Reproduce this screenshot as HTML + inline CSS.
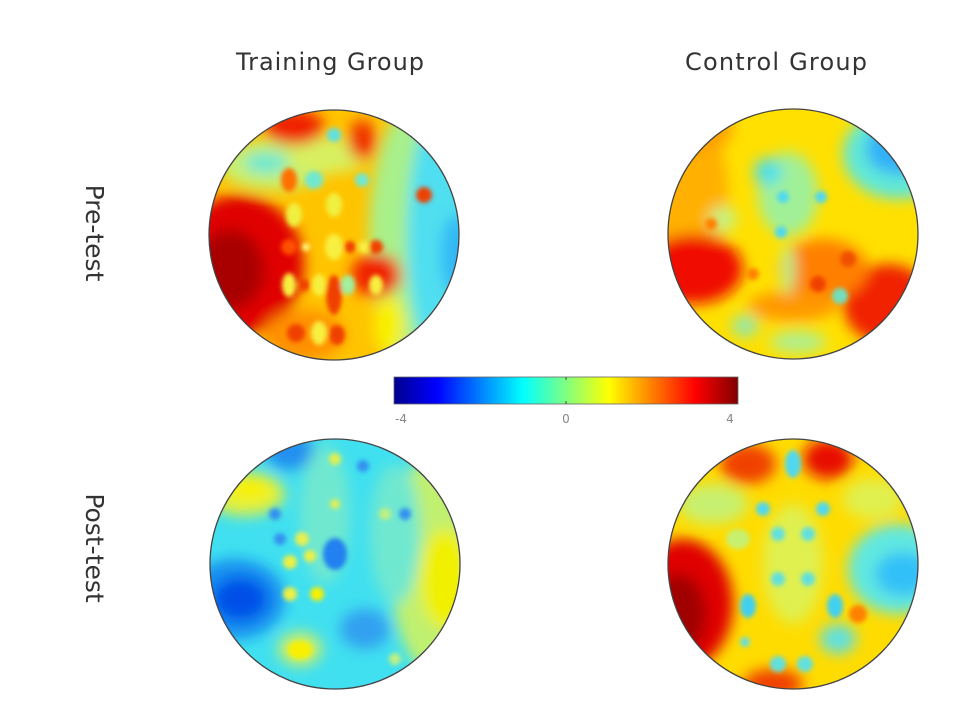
<!DOCTYPE html>
<html><head><meta charset="utf-8"><style>
html,body{margin:0;padding:0;background:#fff;}
svg{display:block;}
text{font-family:"DejaVu Sans","Liberation Sans",sans-serif;fill:#333;}
</style></head><body>
<svg width="960" height="720" viewBox="0 0 960 720" xmlns="http://www.w3.org/2000/svg">
<defs>
<filter id="b" x="-30%" y="-30%" width="160%" height="160%"><feGaussianBlur stdDeviation="7"/></filter>
<filter id="s" x="-50%" y="-50%" width="200%" height="200%"><feGaussianBlur stdDeviation="2.5"/></filter>
<clipPath id="c"><circle cx="0" cy="0" r="125"/></clipPath>
<linearGradient id="jet" x1="0" x2="1" y1="0" y2="0">
<stop offset="0" stop-color="#00008f"/><stop offset="0.125" stop-color="#0000ff"/>
<stop offset="0.375" stop-color="#00ffff"/><stop offset="0.5" stop-color="#80ff80"/>
<stop offset="0.625" stop-color="#ffff00"/><stop offset="0.875" stop-color="#ff0000"/>
<stop offset="1" stop-color="#800000"/></linearGradient>
</defs>

<text x="330" y="70" font-size="24" text-anchor="middle" textLength="188">Training Group</text>
<text x="776" y="70" font-size="24" text-anchor="middle" textLength="182">Control Group</text>
<text transform="translate(86,233) rotate(90)" font-size="25" text-anchor="middle">Pre-test</text>
<text transform="translate(86,548) rotate(90)" font-size="25" text-anchor="middle">Post-test</text>

<!-- Top-left -->
<g transform="translate(334,235)">
<g clip-path="url(#c)">
<rect x="-130" y="-130" width="260" height="260" fill="#ffc400"/>
<g filter="url(#b)">
<ellipse cx="90" cy="0" rx="55" ry="140" fill="#a8f08a"/>
<ellipse cx="108" cy="0" rx="35" ry="130" fill="#50dff0"/>
<ellipse cx="122" cy="20" rx="15" ry="40" fill="#30b8f5"/>
<ellipse cx="-60" cy="-70" rx="55" ry="25" fill="#c8f070"/>
<ellipse cx="-68" cy="-72" rx="22" ry="11" fill="#70e8d0"/>
<ellipse cx="-5" cy="-80" rx="40" ry="18" fill="#d8f060"/>
<ellipse cx="-95" cy="30" rx="65" ry="70" fill="#e00000"/>
<ellipse cx="-105" cy="35" rx="35" ry="40" fill="#a80000"/>
<ellipse cx="-40" cy="-108" rx="30" ry="18" fill="#f02000"/>
<ellipse cx="28" cy="-95" rx="14" ry="20" fill="#f03000"/>
<ellipse cx="42" cy="40" rx="25" ry="22" fill="#f02000"/>
<ellipse cx="-30" cy="100" rx="40" ry="25" fill="#ff9000"/>
<ellipse cx="55" cy="90" rx="15" ry="30" fill="#f8f000"/>
</g>
<g filter="url(#s)">
<circle cx="0" cy="-100" r="7" fill="#60e0e0"/>
<circle cx="-20" cy="-55" r="9" fill="#70e8d0"/>
<circle cx="28" cy="-55" r="7" fill="#70e8d0"/>
<ellipse cx="-45" cy="-55" rx="8" ry="12" fill="#ff7000"/>
<ellipse cx="-40" cy="-20" rx="8" ry="12" fill="#f0f040"/>
<ellipse cx="0" cy="-30" rx="8" ry="12" fill="#f0f040"/>
<circle cx="90" cy="-40" r="8" fill="#f04000"/>
<circle cx="-45" cy="12" r="8" fill="#ff5000"/>
<circle cx="-28" cy="12" r="4" fill="#ffff80"/>
<ellipse cx="0" cy="12" rx="9" ry="13" fill="#f8f040"/>
<circle cx="16" cy="12" r="6" fill="#f04000"/>
<circle cx="30" cy="12" r="6" fill="#f8f040"/>
<circle cx="42" cy="12" r="7" fill="#f04000"/>
<ellipse cx="-45" cy="50" rx="7" ry="12" fill="#f8f040"/>
<circle cx="-30" cy="50" r="6" fill="#f04000"/>
<ellipse cx="-15" cy="50" rx="7" ry="11" fill="#f8f040"/>
<ellipse cx="0" cy="60" rx="8" ry="20" fill="#f04000"/>
<ellipse cx="14" cy="50" rx="7" ry="10" fill="#a0f0a0"/>
<ellipse cx="42" cy="50" rx="7" ry="10" fill="#f8f040"/>
<circle cx="-38" cy="98" r="9" fill="#f04000"/>
<ellipse cx="-15" cy="98" rx="8" ry="12" fill="#f8f040"/>
<ellipse cx="3" cy="100" rx="8" ry="10" fill="#f04000"/>
</g>
</g>
<circle r="125" fill="none" stroke="#444" stroke-width="1.3"/>
</g>

<!-- Top-right -->
<g transform="translate(793,234)">
<g clip-path="url(#c)">
<rect x="-130" y="-130" width="260" height="260" fill="#ffe000"/>
<g filter="url(#b)">
<ellipse cx="-105" cy="-40" rx="40" ry="80" fill="#ffb000"/>
<ellipse cx="-100" cy="35" rx="50" ry="35" fill="#f01000"/>
<ellipse cx="95" cy="70" rx="45" ry="40" fill="#f02000"/>
<ellipse cx="30" cy="35" rx="45" ry="30" fill="#ff8000"/>
<ellipse cx="0" cy="72" rx="45" ry="15" fill="#ff9800"/>
<ellipse cx="105" cy="-80" rx="55" ry="45" fill="#60e8d8"/>
<ellipse cx="105" cy="-85" rx="32" ry="26" fill="#30b0f8"/>
<ellipse cx="-5" cy="-40" rx="30" ry="42" fill="#a0f098"/>
<ellipse cx="-25" cy="-62" rx="14" ry="14" fill="#50e0e8"/>
<ellipse cx="-70" cy="-15" rx="14" ry="13" fill="#c8f080"/>
<ellipse cx="-5" cy="35" rx="7" ry="25" fill="#b8f090"/>
<ellipse cx="-100" cy="-105" rx="40" ry="25" fill="#ffa000"/>
<ellipse cx="-48" cy="92" rx="13" ry="11" fill="#90e8b0"/>
<ellipse cx="5" cy="108" rx="28" ry="11" fill="#b0f090"/>
</g>
<g filter="url(#s)">
<circle cx="-10" cy="-37" r="6" fill="#50d8f0"/>
<circle cx="28" cy="-37" r="6" fill="#50d8f0"/>
<circle cx="-12" cy="-2" r="6" fill="#50d8f0"/>
<circle cx="-82" cy="-10" r="6" fill="#ff8000"/>
<circle cx="-40" cy="40" r="6" fill="#ff8000"/>
<circle cx="55" cy="25" r="8" fill="#f05000"/>
<circle cx="25" cy="50" r="8" fill="#f04000"/>
<circle cx="47" cy="62" r="8" fill="#70e0c0"/>
</g>
</g>
<circle r="125" fill="none" stroke="#444" stroke-width="1.3"/>
</g>

<!-- Colorbar -->
<rect x="394" y="377" width="344" height="27" fill="url(#jet)" stroke="#666" stroke-width="0.8"/>
<line x1="566" y1="377" x2="566" y2="380" stroke="#444"/>
<line x1="566" y1="401" x2="566" y2="404" stroke="#444"/>
<text x="401" y="423" font-size="12" text-anchor="middle" style="fill:#888">-4</text>
<text x="566" y="423" font-size="12" text-anchor="middle" style="fill:#888">0</text>
<text x="730" y="423" font-size="12" text-anchor="middle" style="fill:#888">4</text>

<!-- Bottom-left -->
<g transform="translate(335,564)">
<g clip-path="url(#c)">
<rect x="-130" y="-130" width="260" height="260" fill="#40e0f0"/>
<g filter="url(#b)">
<ellipse cx="100" cy="0" rx="45" ry="110" fill="#c0f070"/>
<ellipse cx="110" cy="15" rx="25" ry="50" fill="#f0f000"/>
<ellipse cx="-90" cy="-70" rx="40" ry="22" fill="#e0f040"/>
<ellipse cx="-85" cy="-75" rx="22" ry="12" fill="#f8f000"/>
<ellipse cx="-100" cy="35" rx="50" ry="40" fill="#1890f0"/>
<ellipse cx="-95" cy="35" rx="28" ry="22" fill="#0050e8"/>
<ellipse cx="-45" cy="-112" rx="25" ry="18" fill="#2090f0"/>
<ellipse cx="30" cy="65" rx="25" ry="20" fill="#30a0f0"/>
<ellipse cx="-35" cy="85" rx="22" ry="17" fill="#d0f060"/>
<ellipse cx="-10" cy="-50" rx="25" ry="70" fill="#70e8d0"/>
<ellipse cx="60" cy="-30" rx="25" ry="70" fill="#70e8d0"/>
</g>
<g filter="url(#s)">
<ellipse cx="-35" cy="86" rx="12" ry="9" fill="#f8f000"/>
<circle cx="-45" cy="-2" r="7" fill="#f0f040"/>
<circle cx="-25" cy="-8" r="6" fill="#f0f040"/>
<circle cx="-55" cy="-25" r="6" fill="#3090f0"/>
<circle cx="-33" cy="-25" r="7" fill="#e8f050"/>
<circle cx="-45" cy="30" r="7" fill="#f0f040"/>
<circle cx="-18" cy="30" r="7" fill="#f8f000"/>
<ellipse cx="0" cy="-10" rx="12" ry="16" fill="#2080f0"/>
<circle cx="0" cy="-105" r="6" fill="#e0f050"/>
<circle cx="0" cy="-60" r="5" fill="#e0f050"/>
<circle cx="-60" cy="-50" r="6" fill="#3090f0"/>
<circle cx="70" cy="-50" r="6" fill="#3090f0"/>
<circle cx="28" cy="-98" r="6" fill="#3090f0"/>
<circle cx="50" cy="-50" r="6" fill="#c0f080"/>
<circle cx="60" cy="95" r="6" fill="#c0f080"/>
</g>
</g>
<circle r="125" fill="none" stroke="#444" stroke-width="1.3"/>
</g>

<!-- Bottom-right -->
<g transform="translate(793,564)">
<g clip-path="url(#c)">
<rect x="-130" y="-130" width="260" height="260" fill="#ffdc00"/>
<g filter="url(#b)">
<ellipse cx="-110" cy="40" rx="50" ry="65" fill="#e00000"/>
<ellipse cx="-115" cy="50" rx="28" ry="40" fill="#a00000"/>
<ellipse cx="-20" cy="120" rx="30" ry="15" fill="#f04000"/>
<ellipse cx="-45" cy="-100" rx="28" ry="20" fill="#f04000"/>
<ellipse cx="35" cy="-105" rx="25" ry="20" fill="#e81000"/>
<ellipse cx="105" cy="5" rx="50" ry="45" fill="#60e8e0"/>
<ellipse cx="110" cy="10" rx="28" ry="22" fill="#30c0f8"/>
<ellipse cx="-80" cy="-60" rx="35" ry="20" fill="#c8f070"/>
<ellipse cx="0" cy="0" rx="30" ry="60" fill="#e0f050"/>
<ellipse cx="80" cy="-65" rx="30" ry="20" fill="#e0f050"/>
<ellipse cx="45" cy="75" rx="18" ry="15" fill="#60e0e0"/>
</g>
<g filter="url(#s)">
<ellipse cx="0" cy="-100" rx="8" ry="14" fill="#50d8f0"/>
<circle cx="-30" cy="-55" r="7" fill="#50d8f0"/>
<circle cx="30" cy="-55" r="7" fill="#50d8f0"/>
<circle cx="-15" cy="-30" r="7" fill="#60e0e0"/>
<circle cx="15" cy="-30" r="7" fill="#60e0e0"/>
<circle cx="-15" cy="15" r="7" fill="#60e0e0"/>
<circle cx="15" cy="15" r="7" fill="#60e0e0"/>
<ellipse cx="-45" cy="42" rx="8" ry="12" fill="#40d0f0"/>
<ellipse cx="42" cy="42" rx="8" ry="12" fill="#40d0f0"/>
<circle cx="65" cy="50" r="9" fill="#ff8000"/>
<circle cx="-48" cy="78" r="5" fill="#60e0e0"/>
<circle cx="-15" cy="100" r="8" fill="#60e0e0"/>
<circle cx="12" cy="100" r="8" fill="#60e0e0"/>
<ellipse cx="-55" cy="-25" rx="12" ry="10" fill="#c8f070"/>
</g>
</g>
<circle r="125" fill="none" stroke="#444" stroke-width="1.3"/>
</g>
</svg>
</body></html>
